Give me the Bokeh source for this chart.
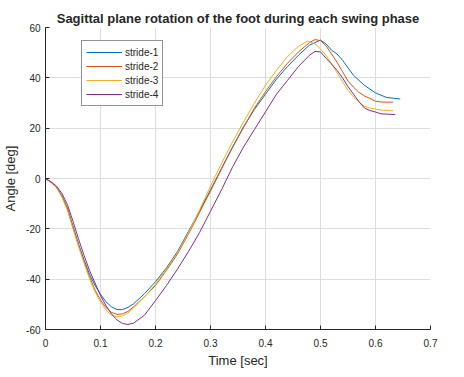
from bokeh.plotting import figure
from bokeh.models import FixedTicker, Legend, LegendItem, Range1d
from bokeh.embed import file_html
from bokeh.resources import INLINE

# ---- data ----
s1_t = [0, 0.01, 0.02, 0.03, 0.04, 0.05, 0.06, 0.07, 0.08, 0.09, 0.10, 0.11, 0.12, 0.13, 0.14, 0.15, 0.16,
        0.18, 0.20, 0.22, 0.24, 0.26, 0.28, 0.30, 0.32, 0.34, 0.36, 0.38, 0.40, 0.42, 0.44, 0.46, 0.48,
        0.50, 0.51, 0.52, 0.53, 0.54, 0.56, 0.58, 0.60, 0.62, 0.645]
s1_a = [0, -1.5, -3.5, -7, -12, -19, -26, -32.3, -38, -42.5, -46, -49, -51, -52.1, -52.1, -51.2, -49.8,
        -45.8, -41, -35.5, -29, -21, -13, -4.5, 4, 12.5, 20.5, 27.5, 33.5, 39.5, 44.5, 49, 53,
        55, 53.5, 51, 49.5, 47, 41, 37, 34, 32.2, 31.6]

s2_t = [0, 0.01, 0.02, 0.03, 0.04, 0.05, 0.06, 0.07, 0.08, 0.09, 0.10, 0.11, 0.12, 0.13, 0.14, 0.15, 0.16,
        0.18, 0.20, 0.22, 0.24, 0.26, 0.28, 0.30, 0.32, 0.34, 0.36, 0.38, 0.40, 0.42, 0.44, 0.46, 0.48,
        0.49, 0.50, 0.51, 0.52, 0.53, 0.54, 0.55, 0.56, 0.57, 0.58, 0.59, 0.60, 0.61, 0.632]
s2_a = [0, -1.5, -3.5, -7, -12, -19.5, -26.5, -33, -39, -44.3, -48.3, -51.3, -53.2, -54, -53.8, -52.8, -51,
        -47, -42.5, -36.5, -30, -22, -13.5, -5, 3.8, 12.3, 20.3, 28, 34.5, 40.5, 45.8, 50.3, 54,
        55.2, 54.8, 52.7, 49.5, 46.2, 42.5, 38.7, 36.3, 34.2, 32.8, 31.8, 30.7, 30.4, 30.3]

s3_t = [0, 0.01, 0.02, 0.03, 0.04, 0.05, 0.06, 0.07, 0.08, 0.09, 0.10, 0.11, 0.12, 0.13, 0.14, 0.15, 0.16,
        0.18, 0.20, 0.22, 0.24, 0.26, 0.28, 0.30, 0.32, 0.34, 0.36, 0.38, 0.40, 0.42, 0.44, 0.46, 0.476,
        0.49, 0.50, 0.51, 0.52, 0.53, 0.54, 0.55, 0.56, 0.57, 0.58, 0.59, 0.60, 0.61, 0.632]
s3_a = [0, -1.5, -3.7, -7.5, -12.8, -20, -27, -33.5, -39.8, -45, -49, -52.3, -54.3, -55, -54.6, -53.4, -51.5,
        -47, -42, -36, -29.5, -21.5, -12.5, -3, 6, 14.5, 22.5, 30, 37, 43, 48.5, 52.5, 54.6,
        53.5, 51.5, 49, 45.6, 42, 38.5, 35, 32.4, 30.3, 28.7, 28, 27.6, 27.2, 26.9]

s4_t = [0, 0.01, 0.02, 0.03, 0.04, 0.05, 0.06, 0.07, 0.08, 0.09, 0.10, 0.11, 0.12, 0.13, 0.14, 0.15, 0.16,
        0.18, 0.20, 0.22, 0.24, 0.26, 0.28, 0.30, 0.32, 0.34, 0.36, 0.38, 0.40, 0.42, 0.44, 0.46, 0.48,
        0.49, 0.50, 0.51, 0.52, 0.53, 0.54, 0.55, 0.56, 0.57, 0.58, 0.59, 0.60, 0.61, 0.636]
s4_a = [0, -1.3, -3, -6, -10.5, -17, -24, -30.5, -36.5, -41.5, -46.5, -50.5, -53.8, -56.2, -57.6, -58, -57.5,
        -54.3, -48.5, -42.5, -36, -29, -21.5, -13, -4.5, 4.5, 12.5, 19.5, 26.5, 33.5, 39, 44.5, 49,
        50.5, 50.3, 47.8, 45.5, 43, 40, 36.5, 33.5, 30.5, 28, 27, 26.4, 25.7, 25.4]

series_names = ["stride-1", "stride-2", "stride-3", "stride-4"]
series_t = [s1_t, s2_t, s3_t, s4_t]
series_a = [s1_a, s2_a, s3_a, s4_a]
colors = ["#0072BD", "#D95319", "#EDB120", "#7E2F8E"]

x_ticks = [0, 0.1, 0.2, 0.3, 0.4, 0.5, 0.6, 0.7]
x_tick_labels = ["0", "0.1", "0.2", "0.3", "0.4", "0.5", "0.6", "0.7"]
y_ticks = [-60, -40, -20, 0, 20, 40, 60]
y_tick_labels = ["-60", "-40", "-20", "0", "20", "40", "60"]

FONT = "Liberation Sans"
TXT = "#262626"

p = figure(width=464, height=377, output_backend="svg", toolbar_location=None,
           x_range=Range1d(0, 0.7), y_range=Range1d(-60, 60),
           min_border_left=44, min_border_right=34, min_border_top=27, min_border_bottom=48)
p.title.text = "Sagittal plane rotation of the foot during each swing phase"
p.title.align = "center"
p.title.offset = -3
p.title.text_font = FONT
p.title.text_font_size = "13px"
p.title.text_font_style = "bold"
p.title.text_color = TXT
p.title.standoff = 3

p.background_fill_color = "white"
p.border_fill_color = "white"
p.outline_line_color = None

renderers = []
for name, t, a, c in zip(series_names, series_t, series_a, colors):
    r = p.line(t, a, line_color=c, line_width=1)
    renderers.append((name, r))

for ax, ticks, labels in ((p.xaxis[0], x_ticks, x_tick_labels), (p.yaxis[0], y_ticks, y_tick_labels)):
    ax.ticker = FixedTicker(ticks=ticks)
    ax.major_label_overrides = {t: l for t, l in zip(ticks, labels)}
    ax.minor_tick_line_color = None
    ax.major_tick_in = 4
    ax.major_tick_out = 0
    ax.axis_line_color = TXT
    ax.major_tick_line_color = TXT
    ax.major_label_text_font = FONT
    ax.major_label_text_font_size = "10px"
    ax.major_label_text_color = TXT
    ax.axis_label_text_font = FONT
    ax.axis_label_text_font_size = "13px"
    ax.axis_label_text_font_style = "normal"
    ax.axis_label_text_color = TXT

p.xaxis.axis_label = "Time [sec]"
p.yaxis.axis_label = "Angle [deg]"
p.xaxis.major_label_standoff = 9
p.yaxis.major_label_standoff = 5
p.xaxis.axis_label_standoff = 3
p.yaxis.axis_label_standoff = 5

p.xgrid.ticker = FixedTicker(ticks=x_ticks)
p.ygrid.ticker = FixedTicker(ticks=y_ticks)
p.grid.grid_line_color = "#dedede"
p.grid.grid_line_width = 1

legend = Legend(items=[LegendItem(label=n, renderers=[r]) for n, r in renderers],
                location=(36, 223), orientation="vertical")
legend.label_text_font = FONT
legend.label_text_font_size = "10px"
legend.label_text_color = TXT
legend.glyph_width = 36
legend.glyph_height = 14
legend.label_height = 14
legend.label_standoff = 3
legend.spacing = 0
legend.padding = 4
legend.margin = 0
legend.border_line_color = TXT
legend.border_line_width = 1
legend.background_fill_color = "white"
legend.background_fill_alpha = 1
p.add_layout(legend)

open("out.html", "w").write(file_html(p, INLINE))
